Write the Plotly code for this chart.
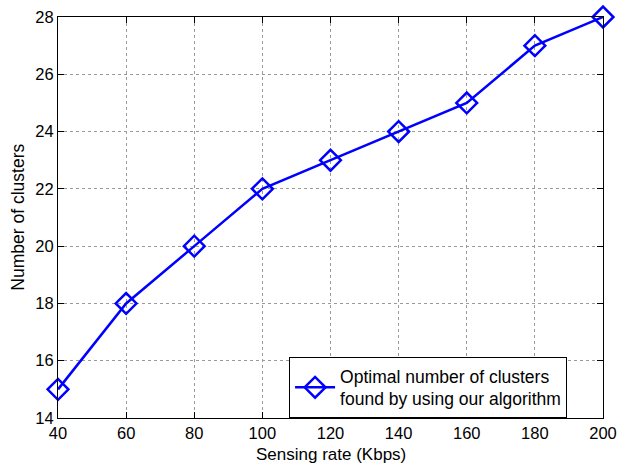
import plotly.graph_objects as go

sensing_rate = [40, 60, 80, 100, 120, 140, 160, 180, 200]
num_clusters = [15, 18, 20, 22, 23, 24, 25, 27, 28]
x_ticks = [40, 60, 80, 100, 120, 140, 160, 180, 200]
y_ticks = [14, 16, 18, 20, 22, 24, 26, 28]
series_name = "Optimal number of clusters<br>found by using our algorithm"
x_title = "Sensing rate (Kbps)"
y_title = "Number of clusters"

fig = go.Figure()
fig.add_trace(go.Scatter(
    x=sensing_rate, y=num_clusters, mode="lines+markers", name=series_name,
    line=dict(color="#0000ff", width=2.5),
    marker=dict(symbol="diamond-open", size=16, color="#0000ff", line=dict(width=2.5, color="#0000ff")),
    cliponaxis=False,
))

axis_common = dict(
    showline=True, linecolor="black", linewidth=1.2, mirror="ticks",
    ticks="inside", ticklen=6, tickcolor="black", tickwidth=1,
    showgrid=True, gridcolor="#9a9a9a", griddash="dot", gridwidth=1,
    zeroline=False, automargin=False, ticklabeloverflow="allow",
    tickfont=dict(family="Liberation Sans, Arial", size=16.5, color="black"),
)

fig.update_layout(
    width=619, height=464,
    margin=dict(l=58, r=16, t=17, b=46),
    paper_bgcolor="white", plot_bgcolor="white",
    font=dict(family="Liberation Sans, Arial", color="black"),
    xaxis=dict(range=[40, 200], tickvals=x_ticks, ticklabelstandoff=0, **axis_common),
    yaxis=dict(range=[14, 28], tickvals=y_ticks, **axis_common),
    legend=dict(x=0.424, y=0.152, xanchor="left", yanchor="top",
                bordercolor="black", borderwidth=1, bgcolor="white",
                itemwidth=40, font=dict(size=17.5, color="black")),
    showlegend=True,
    annotations=[
        dict(text=x_title, xref="paper", yref="paper", x=0.5, y=-0.09,
             xanchor="center", yanchor="middle", showarrow=False,
             font=dict(size=17, color="black")),
        dict(text=y_title, xref="paper", yref="paper", x=-0.075, y=0.5,
             xanchor="center", yanchor="middle", showarrow=False, textangle=-90,
             font=dict(size=17.5, color="black")),
    ],
)

fig.write_html("out.html", config={"displayModeBar": False},
               post_script="document.body.style.margin='0';")
